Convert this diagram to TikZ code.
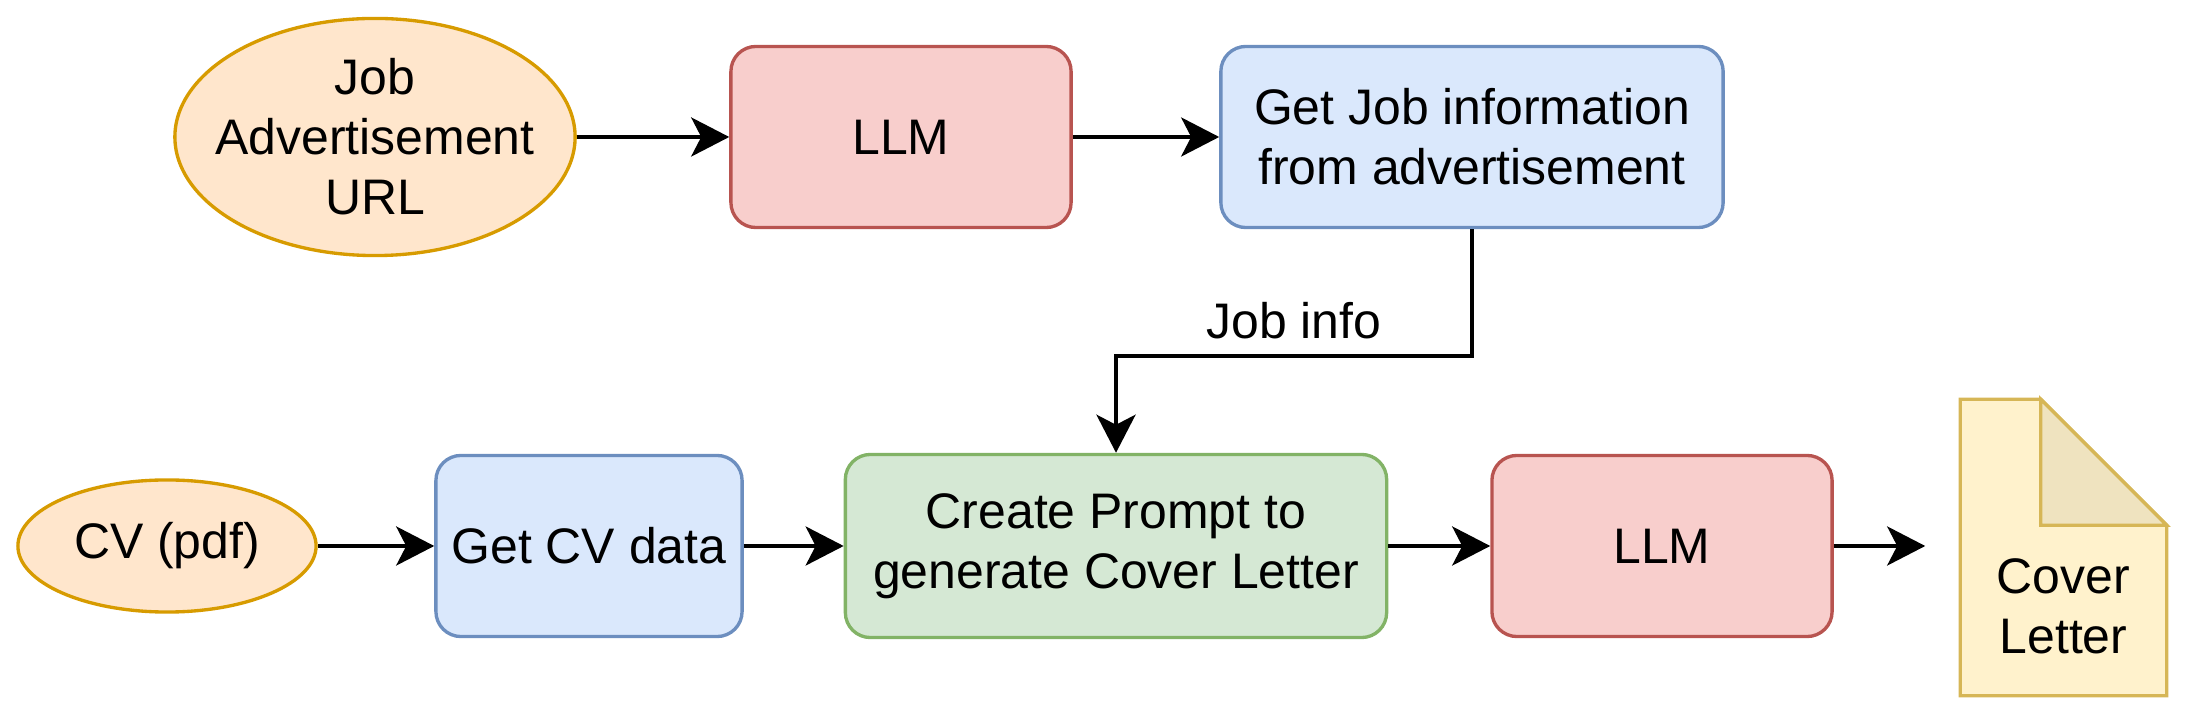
\documentclass[tikz,border=0pt]{standalone}
\usepackage{fontspec}
\setmainfont{Liberation Sans}
\usetikzlibrary{arrows.meta, shapes.geometric, positioning}
\definecolor{input area}{HTML}{FFE6CC}
\definecolor{input edge}{HTML}{D79B00}
\definecolor{llm area}{HTML}{F8CECC}
\definecolor{llm edge}{HTML}{B85450}
\definecolor{step area}{HTML}{DAE8FC}
\definecolor{step edge}{HTML}{6C8EBF}
\definecolor{prompt area}{HTML}{D5E8D4}
\definecolor{prompt edge}{HTML}{82B366}
\definecolor{doc area}{HTML}{FFF2CC}
\definecolor{doc fold}{HTML}{EFE3BF}
\definecolor{doc edge}{HTML}{D6B656}
\tikzset{
  txt/.style={align=center, font=\fontsize{14.2}{17.07}\selectfont},
  base/.style={txt, draw, line width=0.95pt, inner sep=0pt},
  inbox/.style={base, ellipse, fill=input area, draw=input edge},
  llmbox/.style={base, rounded corners=0.25cm, fill=llm area, draw=llm edge,
    minimum width=3.4cm, minimum height=1.81cm},
  stepbox/.style={base, rounded corners=0.25cm, fill=step area, draw=step edge,
    minimum height=1.81cm},
  promptbox/.style={base, rounded corners=0.25cm, fill=prompt area, draw=prompt edge,
    minimum width=5.41cm, minimum height=1.83cm},
  docline/.style={draw=doc edge, line width=0.95pt, line join=miter}
}

\begin{document}
\begin{tikzpicture}[x=0.01cm, y=-0.01cm]
	\tikzstyle{flowline}=[draw, line width=1.15pt, -{Stealth[length=0.38cm, width=0.39cm, inset=0.1cm]}]
	\tikzstyle{docbox}=[minimum width=2.05cm, minimum height=2.95cm, inner sep=0pt]
	\useasboundingbox (0,0) rectangle (2203,722);

	% top row
	\node [inbox, inner xsep=-0.3cm, minimum width=4cm, minimum height=2.37cm] (jobad) at (375,137) {Job\\Advertisement\\URL};
	\node [llmbox] (llm1) at (901,137) {LLM};
	\node [stepbox, minimum width=5.02cm] (getjob) at (1472,137) {Get Job information\\from advertisement};

	% bottom row
	\node [inbox, minimum width=2.98cm, minimum height=1.32cm] (cv) at (167,546) {CV (pdf)};
	\node [stepbox, minimum width=3.06cm] (getcv) at (589,546) {Get CV data};
	\node [promptbox] (prompt) at (1116,546) {Create Prompt to\\generate Cover Letter};
	\node [llmbox] (llm2) at (1662,546) {LLM};
	\node [docbox] (doc) at (2063.5,547.5) {};

	\path[docline, fill=doc area] (doc.north west) -- ([xshift=-1.26cm]doc.north east)
		-- ([yshift=-1.26cm]doc.north east) -- (doc.south east) -- (doc.south west) -- cycle;
	\path[docline, fill=doc fold] ([xshift=-1.26cm]doc.north east)
		-- ([xshift=-1.26cm, yshift=-1.26cm]doc.north east) -- ([yshift=-1.26cm]doc.north east) -- cycle;
	\node [txt] (doctext) at (2063.5,606) {Cover\\Letter};

	\path[flowline] (jobad) -- (llm1);
	\path[flowline] (llm1) -- (getjob);
	\path[flowline] (getjob.south) -- ++(0,127) -| node[txt, pos=0.25, above=1pt] {Job info} (prompt.north);
	\path[flowline] (cv) -- (getcv);
	\path[flowline] (getcv) -- (prompt);
	\path[flowline] (prompt) -- (llm2);
	\path[flowline, shorten >=0.35cm] (llm2) -- (llm2 -| doc.west);
\end{tikzpicture}
\end{document}
